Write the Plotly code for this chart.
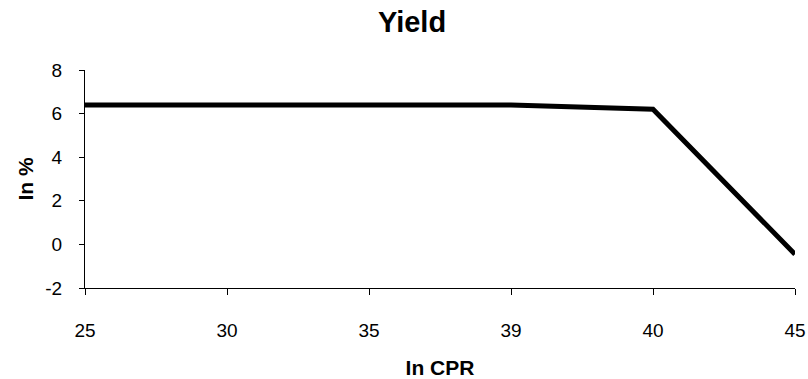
import plotly.graph_objects as go

# CPR scenarios and the resulting yield (in %)
cpr_labels = ["25", "30", "35", "39", "40", "45"]
yield_pct = [6.4, 6.4, 6.4, 6.4, 6.2, -0.45]

# y-axis ticks, written with a plain hyphen for the negative value
y_tick_values = [-2, 0, 2, 4, 6, 8]
y_tick_labels = ["-2", "0", "2", "4", "6", "8"]

fig = go.Figure()
fig.add_trace(go.Scatter(
    x=cpr_labels,
    y=yield_pct,
    mode="lines",
    line=dict(color="black", width=5),
    showlegend=False,
))

font_family = "Liberation Sans, Arial, sans-serif"

fig.update_layout(
    width=808,
    height=379,
    margin=dict(l=85, r=13, t=70, b=91),
    paper_bgcolor="white",
    plot_bgcolor="white",
    font=dict(family=font_family, color="black", size=19),
    title=dict(
        text="<b>Yield</b>",
        x=412 / 808,
        xanchor="center",
        y=1 - 22 / 379,
        yanchor="middle",
        font=dict(size=29, family=font_family, color="black"),
    ),
)

fig.update_xaxes(
    type="category",
    range=[0, 5],
    automargin=False,
    showline=True,
    linecolor="black",
    linewidth=1,
    ticks="outside",
    ticklen=6,
    tickcolor="black",
    tickfont=dict(size=19),
    ticklabelstandoff=19,
    showgrid=False,
    zeroline=False,
    title=dict(text="<b>In CPR</b>", font=dict(size=21), standoff=26),
)

fig.update_yaxes(
    range=[-2, 8],
    tickvals=y_tick_values,
    ticktext=y_tick_labels,
    automargin=False,
    showline=True,
    linecolor="black",
    linewidth=1,
    ticks="outside",
    ticklen=5,
    tickcolor="black",
    tickfont=dict(size=19),
    ticklabelstandoff=13,
    showgrid=False,
    zeroline=False,
    title=dict(text="<b>In %</b>", font=dict(size=21), standoff=5),
)

fig.write_html("out.html")
